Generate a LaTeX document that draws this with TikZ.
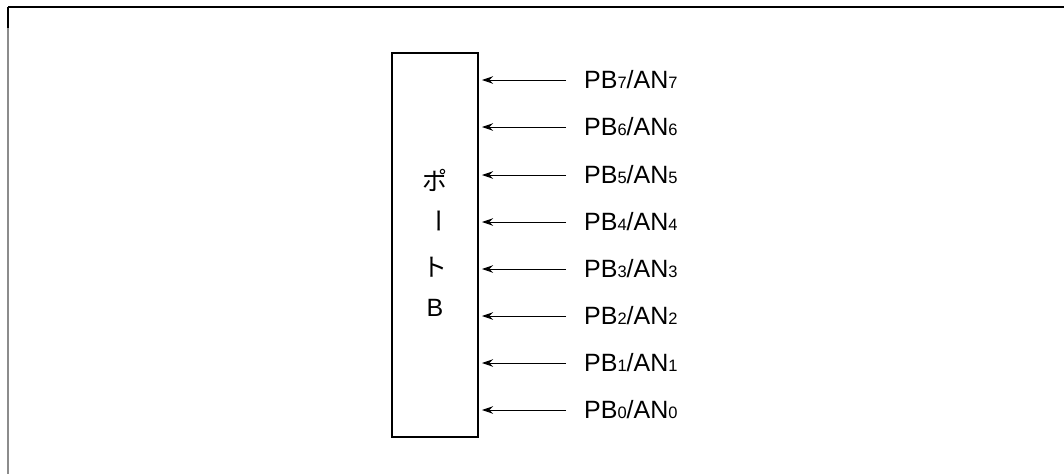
\documentclass[tikz,border=0pt]{standalone}
\usepackage{fontspec}
\setmainfont{Liberation Sans}
\newfontfamily\jp{Noto Sans CJK JP}
\usetikzlibrary{arrows.meta}
\newcommand{\dg}[1]{{\fontsize{16.5}{16.5}\selectfont #1}}
\begin{document}
\begin{tikzpicture}[x=1pt,y=-1pt,
  frame/.style={line width=1.2pt},
  portbox/.style={draw, line width=2pt, minimum width=86pt, minimum height=384pt, inner sep=0pt},
  boxchar/.style={inner sep=0pt, font=\fontsize{25}{25}\selectfont},
  pinlabel/.style={anchor=west, inner sep=0pt, text height=17.5pt, text depth=0pt, font=\fontsize{25}{25}\selectfont},
  arr/.style={-{Stealth[length=11pt,width=7.5pt]}, line width=1pt}]
\useasboundingbox (0,0) rectangle (1064,474);
\draw[frame] (1064,7) -- (8,7);
\draw[frame, black!45] (8,7) -- (8,474);
\draw[frame] (8,7) -- (8,28);
\node[portbox] (port) at (435,245) {};
\node[boxchar] (c1) at (435,180) {\jp ポ};
\node[boxchar] (c2) at (435,221) {\rotatebox{-90}{\jp ー}};
\node[boxchar] (c3) at (435,267) {\jp ト};
\node[boxchar] (c4) at (435,308) {B};
\foreach \i/\y in {7/80,6/127,5/175,4/222,3/269,2/316,1/363,0/410}{
  \node[pinlabel] (l\i) at (584,\y) {PB\dg{\i}/AN\dg{\i}};
  \draw[arr] ([xshift=-18pt]l\i.west) -- ([xshift=3pt]port.east |- l\i.west);
}
\end{tikzpicture}
\end{document}
